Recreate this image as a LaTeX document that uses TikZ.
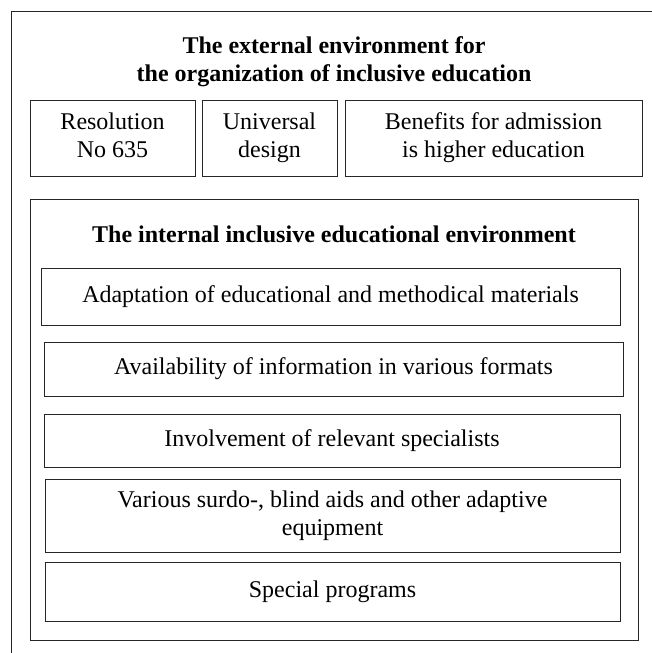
\documentclass[tikz,border=0pt]{standalone}
\usepackage{fontspec}
\setmainfont{Liberation Serif}
\begin{document}
\begin{tikzpicture}[x=1pt,y=-1pt,
  frame/.style={draw=black!85,line width=0.9pt},
  box/.style={draw=black!85,line width=0.9pt,inner sep=2pt,align=center,
    font=\fontsize{24}{28}\selectfont},
  ttl/.style={align=center,inner sep=0pt,font=\fontsize{24}{28}\selectfont\bfseries}]
\useasboundingbox (0,0) rectangle (652,653);
% outer frame (cropped)
\coordinate (o1) at (11,653);
\coordinate (o2) at (11,11);
\coordinate (o3) at (652,11);
\draw[frame] (o1) -- (o2) -- (o3);
% external title
\node[ttl] (ext) at (334,62) {The external environment for\strut\\the organization of inclusive education\strut};
% top boxes
\node[box,minimum width=165,minimum height=76] (b1) at (112.5,138) {Resolution\strut\\No 635\strut};
\node[box,minimum width=135,minimum height=76] (b2) at (269.5,138) {Universal\strut\\design\strut};
\node[box,minimum width=297,minimum height=76] (b3) at (493.5,138) {Benefits for admission\strut\\is higher education\strut};
% inner environment
\node[frame,minimum width=608,minimum height=441,inner sep=0pt] (inner) at (334,419.5) {};
\node[ttl,anchor=base] (int) at (334,242) {The internal inclusive educational environment};
\node[box,minimum width=579,minimum height=57] (ba) at (330.5,296.5) {Adaptation of educational and methodical materials\strut};
\node[box,minimum width=579,minimum height=54] (bb) at (333.5,369) {Availability of information in various formats\strut};
\node[box,minimum width=576,minimum height=53] (bc) at (332,440.5) {Involvement of relevant specialists\strut};
\node[box,minimum width=575,minimum height=73] (bd) at (332.5,515.5) {Various surdo-, blind aids and other adaptive\strut\\equipment\strut};
\node[box,minimum width=575,minimum height=59] (be) at (332.5,591.5) {Special programs\strut};
\end{tikzpicture}
\end{document}
